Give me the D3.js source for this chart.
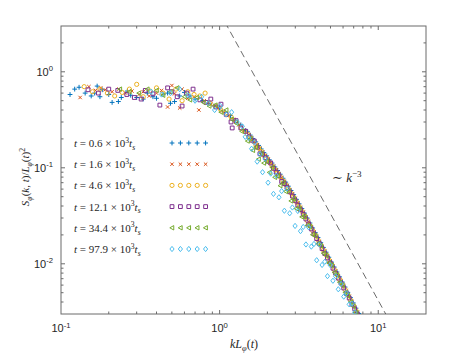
<!DOCTYPE html>
<html lang="en">
<head>
<meta charset="UTF-8" />
<title>Scaled structure factor</title>
<script src="https://d3js.org/d3.v7.min.js"></script>
<style>
  body { margin: 0; background: #fff; }
  .tick-label { font-family: "Liberation Sans", Arial, sans-serif; font-size: 11px; fill: #262626; }
  .tex { font-family: "Liberation Serif", "DejaVu Serif", serif; fill: #262626; }
</style>
</head>
<body>
<svg width="471" height="353"></svg>
<script>
// ---- data : [k L_phi, S / L_phi^2] ----
const timeLabels = ["0.6", "1.6", "4.6", "12.1", "34.4", "97.9"];

const s06 = [[0.114,0.58],[0.122,0.66],[0.130,0.69],[0.142,0.60],[0.155,0.56],[0.163,0.60],[0.169,0.71],[0.176,0.55],[0.182,0.65],[0.200,0.58],[0.210,0.48],[0.230,0.49],[0.240,0.54],[0.262,0.63],[0.275,0.57],[0.300,0.54],[0.330,0.52],[0.350,0.60],[0.380,0.55],[0.400,0.53],[0.440,0.58],[0.470,0.60],[0.490,0.47],[0.520,0.49],[0.560,0.56],[0.600,0.61],[0.650,0.56],[0.700,0.52],[0.780,0.50],[0.850,0.47],[0.920,0.44],[1.00,0.42],[1.08,0.38],[1.17,0.35],[1.26,0.31],[1.36,0.28],[1.46,0.245],
  [1.50,0.237],[1.56,0.219],[1.62,0.202],[1.69,0.186],[1.76,0.171],[1.83,0.157],[1.90,0.144],[1.98,0.133],[2.06,0.121],[2.14,0.112],[2.23,0.102],[2.32,0.0937],[2.41,0.0857],[2.51,0.0778],[2.61,0.0709],[2.71,0.0643],[2.82,0.0580],[2.93,0.0525],[3.05,0.0469],[3.17,0.0421],[3.30,0.0376],[3.43,0.0337],[3.57,0.0299],[3.71,0.0266],[3.86,0.0236],[4.01,0.0211],[4.17,0.0188],[4.34,0.0166],[4.51,0.0148],[4.69,0.0132],[4.88,0.0117],[5.08,0.0104],[5.28,0.00924],[5.49,0.00822],[5.71,0.00730],[5.94,0.00644],[6.18,0.00572],[6.43,0.00504],[6.69,0.00444],[6.96,0.00391],[7.24,0.00345],[7.53,0.00304]];

const s16 = [[0.132,0.54],[0.150,0.70],[0.165,0.64],[0.178,0.68],[0.190,0.65],[0.210,0.62],[0.232,0.66],[0.255,0.60],[0.280,0.63],[0.310,0.58],[0.330,0.62],[0.360,0.56],[0.400,0.60],[0.430,0.64],[0.470,0.43],[0.500,0.72],[0.520,0.59],[0.560,0.42],[0.580,0.66],[0.630,0.53],[0.690,0.55],[0.740,0.40],[0.800,0.50],[0.880,0.46],[0.960,0.43],[1.04,0.39],[1.13,0.35],[1.22,0.32],[1.32,0.28],[1.42,0.245],
  [1.53,0.221],[1.59,0.204],[1.655,0.188],[1.725,0.173],[1.795,0.159],[1.865,0.146],[1.94,0.134],[2.02,0.123],[2.10,0.113],[2.185,0.104],[2.275,0.0948],[2.365,0.0869],[2.46,0.0792],[2.56,0.0720],[2.66,0.0655],[2.765,0.0592],[2.875,0.0535],[2.99,0.0481],[3.11,0.0431],[3.235,0.0386],[3.365,0.0345],[3.50,0.0308],[3.64,0.0274],[3.785,0.0243],[3.935,0.0216],[4.09,0.0193],[4.255,0.0171],[4.425,0.0152],[4.60,0.0135],[4.785,0.0121],[4.98,0.0107],[5.18,0.0095],[5.385,0.00845],[5.60,0.00751],[5.825,0.00665],[6.06,0.00589],[6.305,0.00521],[6.56,0.00459],[6.825,0.00404],[7.10,0.00356],[7.385,0.00314]];

const s46 = [[0.140,0.70],[0.158,0.62],[0.176,0.66],[0.196,0.60],[0.218,0.56],[0.243,0.61],[0.270,0.66],[0.300,0.74],[0.330,0.55],[0.365,0.63],[0.400,0.68],[0.440,0.60],[0.480,0.52],[0.530,0.66],[0.580,0.50],[0.630,0.62],[0.690,0.58],[0.750,0.56],[0.810,0.60],[0.870,0.47],[0.940,0.44],[1.01,0.41],[1.09,0.37],[1.18,0.34],[1.27,0.30],[1.37,0.26],[1.44,0.24],
  [1.50,0.223],[1.56,0.206],[1.62,0.190],[1.69,0.175],[1.76,0.161],[1.83,0.148],[1.90,0.135],[1.98,0.125],[2.06,0.114],[2.14,0.105],[2.23,0.0959],[2.32,0.0881],[2.41,0.0806],[2.51,0.0731],[2.61,0.0666],[2.71,0.0604],[2.82,0.0545],[2.93,0.0494],[3.05,0.0441],[3.17,0.0396],[3.30,0.0353],[3.43,0.0317],[3.57,0.0281],[3.71,0.0250],[3.86,0.0222],[4.01,0.0198],[4.17,0.0177],[4.34,0.0156],[4.51,0.0139],[4.69,0.0124],[4.88,0.0110],[5.08,0.0098],[5.28,0.00869],[5.49,0.00773],[5.71,0.00686],[5.94,0.00605],[6.18,0.00538],[6.43,0.00474],[6.69,0.00417],[6.96,0.00368],[7.24,0.00324]];

const s121 = [[0.148,0.65],[0.172,0.60],[0.200,0.66],[0.228,0.64],[0.260,0.58],[0.290,0.54],[0.320,0.52],[0.340,0.64],[0.380,0.59],[0.420,0.45],[0.470,0.68],[0.500,0.62],[0.540,0.55],[0.580,0.44],[0.620,0.60],[0.680,0.66],[0.750,0.51],[0.820,0.48],[0.880,0.52],[0.950,0.43],[1.02,0.46],[1.10,0.36],[1.18,0.30],[1.20,0.26],[1.27,0.31],[1.36,0.26],[1.46,0.24],
  [1.53,0.210],[1.59,0.194],[1.655,0.190],[1.725,0.164],[1.795,0.140],[1.865,0.139],[1.94,0.127],[2.02,0.117],[2.10,0.112],[2.185,0.0988],[2.275,0.0901],[2.365,0.0826],[2.46,0.0720],[2.56,0.0684],[2.66,0.0622],[2.765,0.0562],[2.875,0.0508],[2.99,0.0457],[3.11,0.0409],[3.235,0.0367],[3.365,0.0328],[3.50,0.0293],[3.64,0.0260],[3.785,0.0231],[3.935,0.0205],[4.09,0.0183],[4.255,0.0162],[4.425,0.0144],[4.60,0.0128],[4.785,0.0115],[4.98,0.0102],[5.18,0.0090],[5.385,0.0080],[5.60,0.0071],[5.825,0.0063],[6.06,0.0056],[6.305,0.0049],[6.56,0.0044],[6.825,0.0038],[7.10,0.0034],[7.385,0.0030]];

const s344 = [[0.235,0.66],[0.270,0.62],[0.310,0.60],[0.350,0.66],[0.400,0.64],[0.440,0.57],[0.490,0.62],[0.540,0.68],[0.600,0.55],[0.650,0.51],[0.720,0.54],[0.790,0.48],[0.860,0.44],[0.940,0.45],[1.02,0.38],[1.10,0.40],[1.19,0.32],[1.28,0.29],[1.38,0.24],
  [1.50,0.190],[1.56,0.201],[1.62,0.152],[1.69,0.164],[1.76,0.123],[1.83,0.141],[1.90,0.112],[1.98,0.117],[2.06,0.0895],[2.14,0.101],[2.23,0.0796],[2.32,0.0825],[2.41,0.0651],[2.51,0.0700],[2.61,0.0567],[2.71,0.0579],[2.82,0.0452],[2.93,0.0473],[3.05,0.0375],[3.17,0.0379],[3.30,0.0308],[3.43,0.0310],[3.57,0.0251],[3.71,0.0245],[3.86,0.0201],[4.01,0.0196],[4.17,0.0162],[4.34,0.0154],[4.51,0.0129],[4.69,0.0123],[4.88,0.0102],[5.08,0.00967],[5.28,0.00813],[5.49,0.00764],[5.71,0.00642],[5.94,0.00599],[6.18,0.00503],[6.43,0.00469],[6.69,0.00400],[6.96,0.00364],[7.24,0.00311]];

const s979 = [[0.370,0.62],[0.430,0.58],[0.490,0.60],[0.560,0.66],[0.630,0.57],[0.700,0.50],[0.770,0.55],[0.850,0.47],[0.930,0.40],[1.01,0.44],[1.10,0.36],[1.19,0.38],[1.29,0.30],[1.39,0.27],[1.45,0.21],
  [1.53,0.205],[1.59,0.158],[1.655,0.184],[1.725,0.116],[1.795,0.139],[1.865,0.090],[1.94,0.124],[2.02,0.070],[2.10,0.087],[2.185,0.0535],[2.275,0.0831],[2.365,0.0493],[2.46,0.0572],[2.56,0.0357],[2.66,0.0608],[2.765,0.0336],[2.875,0.0386],[2.99,0.0248],[3.11,0.0355],[3.235,0.0219],[3.365,0.0242],[3.50,0.0159],[3.64,0.0240],[3.785,0.0151],[3.935,0.0161],[4.09,0.0109],[4.255,0.0159],[4.425,0.00973],[4.60,0.0105],[4.785,0.00744],[4.98,0.00968],[5.18,0.00666],[5.385,0.00741],[5.60,0.00543],[5.825,0.00617],[6.06,0.00455],[6.305,0.00494],[6.56,0.00378],[6.825,0.00384],[7.10,0.00312]];

const seriesData = [s06, s16, s46, s121, s344, s979];

// reference slope  ~ k^-3
const guideAmp = 4.15;
const guideK = [1.0, 12.0];

const xTickVals = [0.1, 1, 10];
const yTickVals = [0.01, 0.1, 1];

// ---- styles ----
const colors = ["#0072BD", "#D95319", "#EDB120", "#7E2F8E", "#77AC30", "#4DBEEE"];
const shapes = ["plus", "cross", "circle", "square", "triangle", "diamond"];

const svg = d3.select("svg");
const padL = 61, padR = 426, padT = 26, padB = 314;

const x = d3.scaleLog().domain([0.1, 20]).range([padL, padR]);
const y = d3.scaleLog().domain([0.003, 3]).range([padB, padT]);

function markerPath(shape) {
  switch (shape) {
    case "plus": { const r = 2.4; return `M${-r},0H${r}M0,${-r}V${r}`; }
    case "cross": { const q = 1.7; return `M${-q},${-q}L${q},${q}M${-q},${q}L${q},${-q}`; }
    case "circle": { const r = 2.1; return `M${r},0A${r},${r} 0 1,1 ${-r},0A${r},${r} 0 1,1 ${r},0Z`; }
    case "square": { const q = 1.9; return `M${-q},${-q}H${q}V${q}H${-q}Z`; }
    case "triangle": { const r = 2.2; return `M${-r},0L${r*0.8},${-r}L${r*0.8},${r}Z`; }
    case "diamond": { const r = 2.1; return `M0,${-r*1.25}L${r},0L0,${r*1.25}L${-r},0Z`; }
  }
}

// rich text helper: parts = [[text, kind]], kind: "", "i", "sup", "sub", "isub"
function rich(sel, parts, size) {
  let cur = 0;
  parts.forEach(([txt, kind]) => {
    const small = kind === "sup" || kind === "sub" || kind === "isub" || kind === "isup";
    let target = 0;
    if (kind === "sup" || kind === "isup") target = -size * 0.4;
    if (kind === "sub" || kind === "isub") target = size * 0.25;
    sel.append("tspan")
      .attr("dy", target - cur)
      .style("font-size", (small ? size * 0.7 : size) + "px")
      .style("font-style", kind.startsWith("i") ? "italic" : "normal")
      .text(txt);
    cur = target;
  });
}

// ---- axes box and ticks ----
const axisColor = "#6b6b6b";
const g = svg.append("g");

g.append("rect")
  .attr("x", padL).attr("y", padT)
  .attr("width", padR - padL).attr("height", padB - padT)
  .attr("fill", "none").attr("stroke", axisColor).attr("stroke-width", 1);

const xAll = [];
[0.1, 1, 10].forEach(d => { for (let m = 1; m <= 9; m++) { const v = d * m; if (v > 0.1 && v < 20) xAll.push(v); } });
const yAll = [];
[0.001, 0.01, 0.1, 1].forEach(d => { for (let m = 1; m <= 9; m++) { const v = d * m; if (v > 0.003 && v < 3) yAll.push(v); } });

const isMajor = v => Math.abs(Math.log10(v) - Math.round(Math.log10(v))) < 1e-6;

xAll.forEach(v => {
  const L = isMajor(v) ? 4 : 2.5;
  const px = x(v);
  g.append("line").attr("x1", px).attr("x2", px).attr("y1", padB).attr("y2", padB - L).attr("stroke", axisColor);
  g.append("line").attr("x1", px).attr("x2", px).attr("y1", padT).attr("y2", padT + L).attr("stroke", axisColor);
});
yAll.forEach(v => {
  const L = isMajor(v) ? 4 : 2.5;
  const py = y(v);
  g.append("line").attr("x1", padL).attr("x2", padL + L).attr("y1", py).attr("y2", py).attr("stroke", axisColor);
  g.append("line").attr("x1", padR).attr("x2", padR - L).attr("y1", py).attr("y2", py).attr("stroke", axisColor);
});

xTickVals.forEach(v => {
  const t = g.append("text").attr("class", "tick-label")
    .attr("x", x(v)).attr("y", padB + 18).attr("text-anchor", "middle");
  rich(t, [["10", ""], [String(Math.round(Math.log10(v))), "sup"]], 11);
});
yTickVals.forEach(v => {
  const t = g.append("text").attr("class", "tick-label")
    .attr("x", padL - 8).attr("y", y(v) + 4).attr("text-anchor", "end");
  rich(t, [["10", ""], [String(Math.round(Math.log10(v))), "sup"]], 11);
});

// ---- clip ----
svg.append("clipPath").attr("id", "plotClip")
  .append("rect").attr("x", padL).attr("y", padT).attr("width", padR - padL).attr("height", padB - padT);

const plot = svg.append("g").attr("clip-path", "url(#plotClip)");

// guide line
plot.append("line")
  .attr("x1", x(guideK[0])).attr("y1", y(guideAmp * Math.pow(guideK[0], -3)))
  .attr("x2", x(guideK[1])).attr("y2", y(guideAmp * Math.pow(guideK[1], -3)))
  .attr("stroke", "#444").attr("stroke-width", 0.8).attr("stroke-dasharray", "7,4");

// scatter series
seriesData.forEach((pts, i) => {
  plot.selectAll(null)
    .data(pts.filter(d => d[1] >= 0.003))
    .enter().append("path")
    .attr("d", markerPath(shapes[i]))
    .attr("transform", d => `translate(${x(d[0])},${y(d[1])})`)
    .attr("fill", "none")
    .attr("stroke", colors[i])
    .attr("stroke-width", 1);
});

// ---- legend ----
const legendY0 = 143, legendDy = 21.2;
timeLabels.forEach((lab, i) => {
  const ly = legendY0 + i * legendDy;
  const t = svg.append("text").attr("class", "tex").attr("x", 74).attr("y", ly + 4);
  rich(t, [["t", "i"], [" = " + lab + " \u00d7 10", ""], ["3", "sup"], ["t", "i"], ["s", "isub"]], 11);
  for (let j = 0; j < 5; j++) {
    svg.append("path")
      .attr("d", markerPath(shapes[i]))
      .attr("transform", `translate(${172 + j * 8.4},${ly})`)
      .attr("fill", "none").attr("stroke", colors[i]).attr("stroke-width", 1);
  }
});

// ---- labels ----
const kl = svg.append("text").attr("class", "tex")
  .attr("x", 332).attr("y", 182);
rich(kl, [["\u223c ", ""], ["k", "i"], ["\u22123", "sup"]], 13);

const xl = svg.append("text").attr("class", "tex")
  .attr("x", 244).attr("y", 348).attr("text-anchor", "middle");
rich(xl, [["kL", "i"], ["\u03c6", "isub"], ["(", ""], ["t", "i"], [")", ""]], 12);

const yl = svg.append("text").attr("class", "tex")
  .attr("transform", "translate(29,177) rotate(-90)").attr("text-anchor", "middle");
rich(yl, [["S", "i"], ["\u03c6", "isub"], ["(", ""], ["k", "i"], [", ", ""], ["t", "i"], [")/", ""], ["L", "i"], ["\u03c6", "isub"], ["(", ""], ["t", "i"], [")", ""], ["2", "sup"]], 11);
</script>
</body>
</html>
